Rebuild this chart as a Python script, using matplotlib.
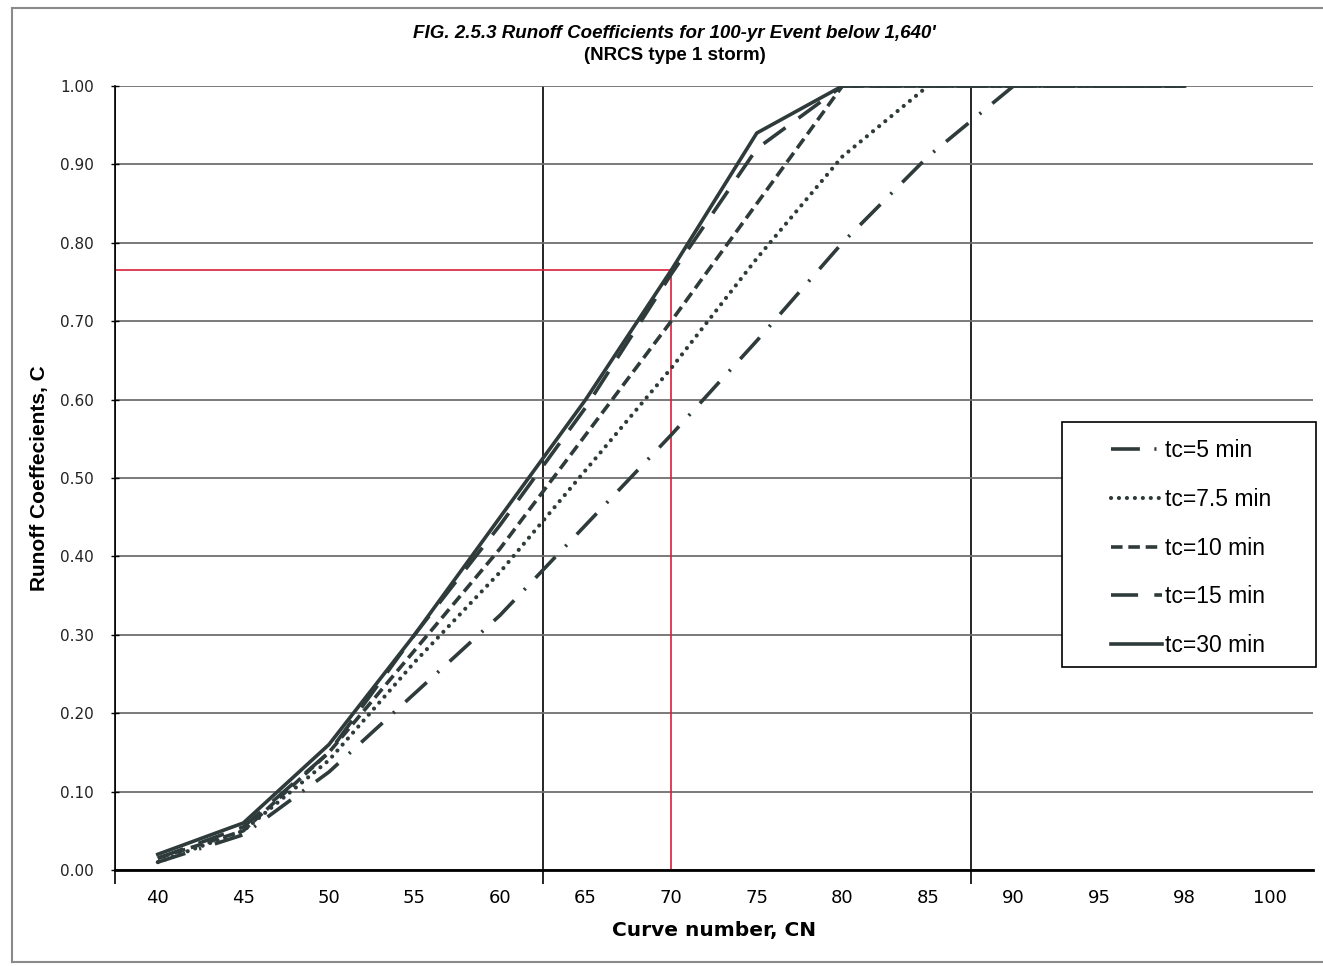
import numpy as np
import matplotlib
matplotlib.use("Agg")
import matplotlib.pyplot as plt
from matplotlib.lines import Line2D
from matplotlib.patches import Rectangle

# curve numbers (category axis) and runoff coefficients
cn_labels = ["40", "45", "50", "55", "60", "65", "70", "75", "80", "85", "90", "95", "98", "100"]
tc5 = [0.01, 0.045, 0.125, 0.225, 0.325, 0.44, 0.555, 0.675, 0.80, 0.91, 1.00, 1.00, 1.00]
tc7_5 = [0.01, 0.05, 0.14, 0.265, 0.38, 0.51, 0.64, 0.78, 0.91, 1.00, 1.00, 1.00, 1.00]
tc10 = [0.015, 0.05, 0.15, 0.28, 0.41, 0.555, 0.70, 0.85, 1.00, 1.00, 1.00, 1.00, 1.00]
tc15 = [0.015, 0.055, 0.15, 0.30, 0.44, 0.59, 0.76, 0.92, 1.00, 1.00, 1.00, 1.00, 1.00]
tc30 = [0.02, 0.06, 0.16, 0.30, 0.45, 0.60, 0.765, 0.94, 1.00, 1.00, 1.00, 1.00, 1.00]
series_labels = ["tc=5 min", "tc=7.5 min", "tc=10 min", "tc=15 min", "tc=30 min"]

# red read-off lines: CN = 70 -> C = 0.765
read_cn = "70"
read_c = 0.765

line_color = "#2e3b3a"
W, H = 1323, 966
fig = plt.figure(figsize=(W / 100, H / 100), dpi=100)
fig.patch.set_facecolor("white")

# scanned page frame
fig.add_artist(Line2D([12 / W, 1.0], [1 - 8 / H, 1 - 8 / H], color="#8a8a8a", lw=1.5))
fig.add_artist(Line2D([12 / W, 1.0], [4 / H, 4 / H], color="#8a8a8a", lw=1.5))
fig.add_artist(Line2D([12 / W, 12 / W], [4 / H, 1 - 8 / H], color="#8a8a8a", lw=1.5))

ax = fig.add_axes([115 / W, (H - 870) / H, 1198 / W, 784 / H])
x = np.arange(len(cn_labels))

styles = [
    dict(lw=2.6, dashes=[8, 4, 0.6, 4]),
    dict(lw=3.0, dashes=[0.01, 1.9], dash_capstyle="round"),
    dict(lw=2.6, dashes=[3.2, 1.6]),
    dict(lw=2.6, dashes=[7.5, 4.5]),
    dict(lw=2.6),
]
for vals, lab, st in zip([tc5, tc7_5, tc10, tc15, tc30], series_labels, styles):
    ax.plot(x[:len(vals)], vals, color=line_color, label=lab, **st)

xi = cn_labels.index(read_cn)
ax.plot([-0.5, xi], [read_c, read_c], color="#d8203a", lw=1.2, zorder=1)
ax.plot([xi, xi], [0, read_c], color="#d8203a", lw=1.2, zorder=1)

ax.set_xlim(-0.5, len(cn_labels) - 0.5)
ax.set_ylim(0, 1.0)
ax.set_yticks(np.arange(0, 1.01, 0.1))
ax.set_yticklabels([f"{v:.2f}" for v in np.arange(0, 1.01, 0.1)], fontsize=11, color="#222222")
ax.set_xticks([-0.5, 4.5, 9.5])
ax.set_xticklabels([])
ax.set_xticks(x, minor=True)
ax.set_xticklabels(cn_labels, minor=True, fontsize=13)
ax.tick_params(axis="x", which="minor", length=0, pad=14)
ax.tick_params(axis="x", which="major", length=10, width=1.2, direction="out")
ax.tick_params(axis="y", length=6, width=1, direction="inout", pad=12)

ax.grid(axis="y", color="#707070", lw=1.3)
ax.grid(axis="x", which="major", color="black", lw=1.2)
ax.set_axisbelow(True)
for s in ["top", "right"]:
    ax.spines[s].set_visible(False)
ax.spines["bottom"].set_linewidth(2)
ax.spines["left"].set_linewidth(1.2)

ax.set_xlabel("Curve number, CN", fontsize=14.5, fontweight="bold", labelpad=10)
ax.set_ylabel("Runoff Coeffecients, C", fontsize=15, fontweight="bold",
              family="Liberation Sans", labelpad=8)

fig.text(0.51, 1 - 33 / H, "FIG. 2.5.3 Runoff Coefficients for 100-yr Event below 1,640'",
         ha="center", va="center", fontsize=13.5, fontweight="bold", fontstyle="italic",
         family="Liberation Sans")
fig.text(0.51, 1 - 55 / H, "(NRCS type 1 storm)", ha="center", va="center",
         fontsize=13.5, fontweight="bold", family="Liberation Sans")

# legend box drawn separately so the handles can sit well in from the left edge
ax.add_patch(Rectangle((0.7905, 0.259), 0.212, 0.312, transform=ax.transAxes,
                       facecolor="white", edgecolor="black", lw=1.2, clip_on=False, zorder=4))
leg = ax.legend(loc="upper left", bbox_to_anchor=(0.826, 0.558), frameon=False,
                prop={"family": "Liberation Sans", "size": 16.5},
                handlelength=2.2, handletextpad=0.15, labelspacing=1.12,
                borderpad=0.3, borderaxespad=0)
leg.set_zorder(5)

fig.savefig("out.png", dpi=100)
